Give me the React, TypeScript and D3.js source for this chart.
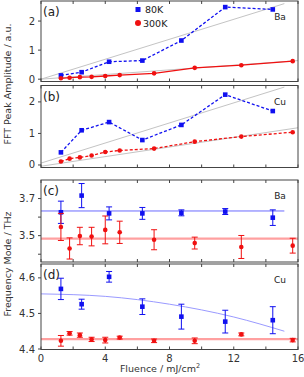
import React from "react";
import * as d3 from "d3";

// fluence values (mJ/cm^2)
const fluence80 = [1.24, 2.53, 4.24, 6.31, 8.74, 11.47, 14.43];
const fluence300 = [1.24, 1.78, 2.42, 3.15, 4.0, 4.9, 7.04, 9.57, 12.47, 15.67];

// FFT peak amplitudes
const ampBa80 = [0.13, 0.24, 0.6, 0.64, 1.33, 2.48, 2.4];
const ampBa300 = [0.03, 0.05, 0.07, 0.08, 0.11, 0.14, 0.2, 0.39, 0.48, 0.62];
const ampCu80 = [0.4, 1.1, 1.36, 0.79, 1.27, 2.23, 1.71];
const ampCu300 = [0.11, 0.2, 0.24, 0.3, 0.41, 0.46, 0.52, 0.74, 0.9, 1.04];

// frequency modes (THz) and errors
const freqBa80 = [3.626, 3.716, 3.62, 3.62, 3.623, 3.63, 3.597];
const errBa80 = [0.06, 0.065, 0.035, 0.032, 0.016, 0.016, 0.042];
const freqBa300 = [3.547, 3.431, 3.498, 3.495, 3.531, 3.518, 3.478, 3.46, 3.439, 3.446];
const errBa300 = [0.073, 0.057, 0.047, 0.05, 0.075, 0.06, 0.054, 0.032, 0.062, 0.04];
const freqCu80 = [4.569, 4.526, 4.603, 4.519, 4.491, 4.477, 4.481];
const errCu80 = [0.03, 0.014, 0.015, 0.022, 0.035, 0.032, 0.038];
const freqCu300 = [4.423, 4.444, 4.439, 4.427, 4.425, 4.432, 4.423, 4.423, 4.441, 4.425];
const errCu300 = [0.015, 0.005, 0.006, 0.006, 0.008, 0.004, 0.005, 0.008, 0.004, 0.005];

// fit lines: [fluence, value]
const fitA1: [number, number][] = [[0, 0], [15.15, 2.6]];
const fitA2: [number, number][] = [[0, 0], [16, 0.64]];
const fitB1: [number, number][] = [[0, 0.06], [15.15, 2.47]];
const fitB2: [number, number][] = [[0, -0.04], [16, 1.18]];
const fitC80: [number, number][] = [[0, 3.633], [15.15, 3.633]];
const fitC300: [number, number][] = [[0, 3.484], [16, 3.484]];
const fitD80: [number, number][] = [[0, 4.555], [4, 4.548], [8, 4.526], [12, 4.49], [15.15, 4.45]];
const fitD300: [number, number][] = [[0, 4.428], [16, 4.428]];

const xTicks = [0, 2, 4, 6, 8, 10, 12, 14, 16];
const xLabels = [0, 4, 8, 12, 16];

const BLUE = "#1010f0";
const RED = "#f01010";
const FONT = "DejaVu Sans, Verdana, sans-serif";

const x = d3.scaleLinear().domain([0, 16]).range([41, 298]);

interface IPanel {
  top: number;
  bottom: number;
  domain: [number, number];
  ticks: number[];
  labels: number[];
  fmt: (v: number) => string;
  tag: string;
  name: string;
}

const panelA: IPanel = { top: 1, bottom: 81.5, domain: [-0.08, 2.69], ticks: [0, 1, 2], labels: [0, 1, 2], fmt: d3.format("d"), tag: "(a)", name: "Ba" };
const panelB: IPanel = { top: 85.5, bottom: 167.5, domain: [-0.08, 2.52], ticks: [0, 1, 2], labels: [0, 1, 2], fmt: d3.format("d"), tag: "(b)", name: "Cu" };
const panelC: IPanel = { top: 180, bottom: 262, domain: [3.358, 3.8], ticks: [3.4, 3.5, 3.6, 3.7], labels: [3.5, 3.7], fmt: d3.format(".1f"), tag: "(c)", name: "Ba" };
const panelD: IPanel = { top: 264, bottom: 349.5, domain: [4.3986, 4.639], ticks: [4.4, 4.5, 4.6], labels: [4.4, 4.5, 4.6], fmt: d3.format(".1f"), tag: "(d)", name: "Cu" };

function yScale(p: IPanel) {
  return d3.scaleLinear().domain(p.domain).range([p.bottom, p.top]);
}

function Frame({ p, showX }: { p: IPanel; showX: boolean }) {
  const y = yScale(p);
  return (
    <g>
      <rect x={x(0)} y={p.top} width={x(16) - x(0)} height={p.bottom - p.top} fill="none" stroke="#444" strokeWidth={1} />
      {xTicks.map((t) => (
        <g key={"xt" + t}>
          <line x1={x(t)} x2={x(t)} y1={p.bottom} y2={p.bottom - 3} stroke="#444" />
          <line x1={x(t)} x2={x(t)} y1={p.top} y2={p.top + 3} stroke="#444" />
        </g>
      ))}
      {p.ticks.map((t) => (
        <line key={"yt" + t} x1={x(0) - 3} x2={x(0)} y1={y(t)} y2={y(t)} stroke="#444" />
      ))}
      {p.labels.map((t) => (
        <text key={"yl" + t} x={35} y={y(t) + 3.5} textAnchor="end" fontSize={10} fill="#333" fontFamily={FONT}>
          {p.fmt(t)}
        </text>
      ))}
      {showX &&
        xLabels.map((t) => (
          <text key={"xl" + t} x={x(t)} y={362} textAnchor="middle" fontSize={10} fill="#333" fontFamily={FONT}>
            {t}
          </text>
        ))}
      <text x={43} y={p.top + 15} fontSize={12} fill="#222" fontFamily={FONT}>{p.tag}</text>
      <text x={280} y={p.top + 19} textAnchor="middle" fontSize={9} fill="#222" fontFamily={FONT}>{p.name}</text>
    </g>
  );
}

function FitLine({ p, pts, color, width, curve }: { p: IPanel; pts: [number, number][]; color: string; width: number; curve?: boolean }) {
  const y = yScale(p);
  const line = d3
    .line<[number, number]>()
    .x((d) => x(d[0]))
    .y((d) => y(d[1]))
    .curve(curve ? d3.curveMonotoneX : d3.curveLinear);
  return <path d={line(pts) || ""} fill="none" stroke={color} strokeWidth={width} />;
}

function Series({ p, xs, ys, color, square, dashed, errs, lineOn }: { p: IPanel; xs: number[]; ys: number[]; color: string; square: boolean; dashed?: boolean; errs?: number[]; lineOn?: boolean }) {
  const y = yScale(p);
  const pts: [number, number][] = xs.map((v, i) => [v, ys[i]]);
  const line = d3.line<[number, number]>().x((d) => x(d[0])).y((d) => y(d[1]));
  return (
    <g>
      {lineOn && <path d={line(pts) || ""} fill="none" stroke={color} strokeWidth={1.3} strokeDasharray={dashed ? "3,2" : undefined} />}
      {errs &&
        pts.map((d, i) => {
          const cx = x(d[0]);
          const y1 = y(d[1] + errs[i]);
          const y2 = y(d[1] - errs[i]);
          return (
            <g key={"e" + i} stroke={color} strokeWidth={1}>
              <line x1={cx} x2={cx} y1={y1} y2={y2} />
              <line x1={cx - 3} x2={cx + 3} y1={y1} y2={y1} />
              <line x1={cx - 3} x2={cx + 3} y1={y2} y2={y2} />
            </g>
          );
        })}
      {pts.map((d, i) =>
        square ? (
          <rect key={"m" + i} x={x(d[0]) - 2.3} y={y(d[1]) - 2.3} width={4.6} height={4.6} fill={color} />
        ) : (
          <circle key={"m" + i} cx={x(d[0])} cy={y(d[1])} r={2.3} fill={color} />
        )
      )}
    </g>
  );
}

export default function App() {
  return (
    <svg width={304} height={377} style={{ position: "absolute", left: 0, top: 0, background: "#fff" }}>
      {/* panel a */}
      <FitLine p={panelA} pts={fitA1} color="#c4c4c4" width={1} />
      <FitLine p={panelA} pts={fitA2} color="#c4c4c4" width={1} />
      <Series p={panelA} xs={fluence80} ys={ampBa80} color={BLUE} square dashed lineOn />
      <Series p={panelA} xs={fluence300} ys={ampBa300} color={RED} square={false} lineOn />
      <Frame p={panelA} showX={false} />

      {/* panel b */}
      <FitLine p={panelB} pts={fitB1} color="#c4c4c4" width={1} />
      <FitLine p={panelB} pts={fitB2} color="#c4c4c4" width={1} />
      <Series p={panelB} xs={fluence80} ys={ampCu80} color={BLUE} square dashed lineOn />
      <Series p={panelB} xs={fluence300} ys={ampCu300} color={RED} square={false} dashed lineOn />
      <Frame p={panelB} showX={false} />

      {/* panel c */}
      <FitLine p={panelC} pts={fitC300} color="#ffa0a0" width={2.2} />
      <FitLine p={panelC} pts={fitC80} color="#6a6aff" width={1} />
      <Series p={panelC} xs={fluence80} ys={freqBa80} errs={errBa80} color={BLUE} square />
      <Series p={panelC} xs={fluence300} ys={freqBa300} errs={errBa300} color={RED} square={false} />
      <Frame p={panelC} showX={false} />

      {/* panel d */}
      <FitLine p={panelD} pts={fitD300} color="#ffa0a0" width={2.2} />
      <FitLine p={panelD} pts={fitD80} color="#9a9aff" width={1} curve />
      <Series p={panelD} xs={fluence80} ys={freqCu80} errs={errCu80} color={BLUE} square />
      <Series p={panelD} xs={fluence300} ys={freqCu300} errs={errCu300} color={RED} square={false} />
      <Frame p={panelD} showX />

      {/* legend */}
      <rect x={135.5} y={7} width={5} height={5} fill={BLUE} />
      <text x={145} y={13} fontSize={9.5} fill="#222" fontFamily={FONT}>80K</text>
      <circle cx={138} cy={23} r={3} fill={RED} />
      <text x={143} y={26.5} fontSize={9.5} fill="#222" fontFamily={FONT}>300K</text>

      {/* axis titles */}
      <text transform="translate(11,84) rotate(-90)" textAnchor="middle" fontSize={9.5} fill="#333" fontFamily={FONT}>
        FFT Peak Amplitude / a.u.
      </text>
      <text transform="translate(11,264) rotate(-90)" textAnchor="middle" fontSize={9.5} fill="#333" fontFamily={FONT}>
        Frequency Mode / THz
      </text>
      <text x={160} y={372} textAnchor="middle" fontSize={9.5} fill="#333" fontFamily={FONT}>
        Fluence / mJ/cm<tspan dy={-4} fontSize={6.5}>2</tspan>
      </text>
    </svg>
  );
}
